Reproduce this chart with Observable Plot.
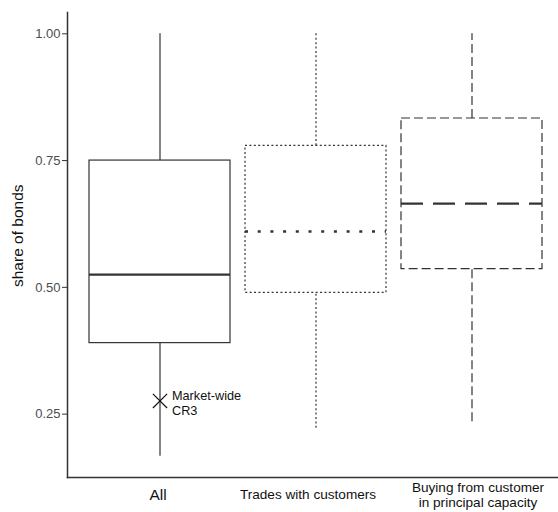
<!DOCTYPE html>
<html>
<head>
<meta charset="utf-8">
<script src="https://cdn.jsdelivr.net/npm/d3@7"></script>
<script src="https://cdn.jsdelivr.net/npm/@observablehq/plot@0.6"></script>
<style>
  html, body { margin: 0; padding: 0; background: #fff; }
  #chart svg { display: block; }
</style>
</head>
<body>
<div id="chart"></div>
<script>
// Box-plot summaries of the share of bonds, by trade type
const categories = ["All", "Trades with customers", "Buying from customer\nin principal capacity"];
const whiskerLow = [0.167, 0.222, 0.235];
const lowerQuartile = [0.390, 0.489, 0.536];
const median = [0.525, 0.610, 0.665];
const upperQuartile = [0.750, 0.779, 0.833];
const whiskerHigh = [1.0, 1.0, 1.0];
const yTicks = [0.25, 0.50, 0.75, 1.00];
// Market-wide concentration ratio of the top three (shown on the "All" box)
const cr3Category = "All";
const cr3Value = 0.276;

const rows = categories.map((category, i) => ({
  category,
  low: whiskerLow[i],
  q1: lowerQuartile[i],
  med: median[i],
  q3: upperQuartile[i],
  high: whiskerHigh[i]
}));

// line style of each box: solid, dotted, dashed
const boxDash = [null, "2,2.4", "9,4"];
const medianDash = [null, "3,9.7", "22,10"];
// category label styling: size and small horizontal nudge
const labelSize = [15.5, 13.6, 13.6];
const labelNudge = [-2, -8, 6];
const ink = "#333333";
const font = "'Liberation Sans', Arial, Helvetica, sans-serif";

const boxMarks = rows.flatMap((row, i) => {
  const line = {stroke: ink, strokeWidth: 1.2, strokeDasharray: boxDash[i]};
  return [
    Plot.ruleX([row], {x: "category", y1: "low", y2: "q1", ...line}),
    Plot.ruleX([row], {x: "category", y1: "q3", y2: "high", ...line}),
    Plot.barY([row], {x: "category", y1: "q1", y2: "q3", fill: "none", ...line}),
    Plot.tickY([row], {x: "category", y: "med", stroke: ink, strokeWidth: 2.4, strokeDasharray: medianDash[i]})
  ];
});

const labelMarks = categories.map((category, i) =>
  Plot.text([category], {
    x: d => d, frameAnchor: "bottom", dy: 17, dx: labelNudge[i], lineAnchor: "middle",
    fontSize: labelSize[i], fill: "#111", lineHeight: 1.1
  })
);

const chart = Plot.plot({
  width: 558,
  height: 512,
  marginLeft: 67,
  marginRight: 0,
  marginTop: 12,
  marginBottom: 35,
  style: {fontFamily: font, background: "#fff"},
  x: {type: "band", domain: categories, range: [67, 565], paddingInner: 0.096, paddingOuter: 0.144, axis: null},
  y: {domain: [0.125, 1.042], axis: null},
  marks: [
    ...boxMarks,
    Plot.dot([cr3Value], {x: () => cr3Category, y: d => d, symbol: "times", r: 6.5, stroke: "#111", strokeWidth: 1.2}),
    Plot.text([cr3Value], {
      x: () => cr3Category, y: d => d, text: () => "Market-wide\nCR3",
      textAnchor: "start", dx: 12, dy: 2, lineAnchor: "middle", fontSize: 12.7, fill: "#111", lineHeight: 1.12
    }),
    Plot.axisY({
      ticks: yTicks, tickFormat: d3.format(".2f"), tickSize: 5, tickPadding: 2,
      fontSize: 13, color: "#4d4d4d", stroke: ink, label: null
    }),
    Plot.text(["share of bonds"], {
      frameAnchor: "left", dx: -49.5, dy: 42, rotate: -90, fontSize: 15.5, fill: "#111"
    }),
    ...labelMarks,
    Plot.frame({anchor: "left", stroke: ink, strokeWidth: 1.5}),
    Plot.frame({anchor: "bottom", stroke: ink, strokeWidth: 1.5})
  ]
});

document.getElementById("chart").appendChild(chart);
</script>
</body>
</html>
